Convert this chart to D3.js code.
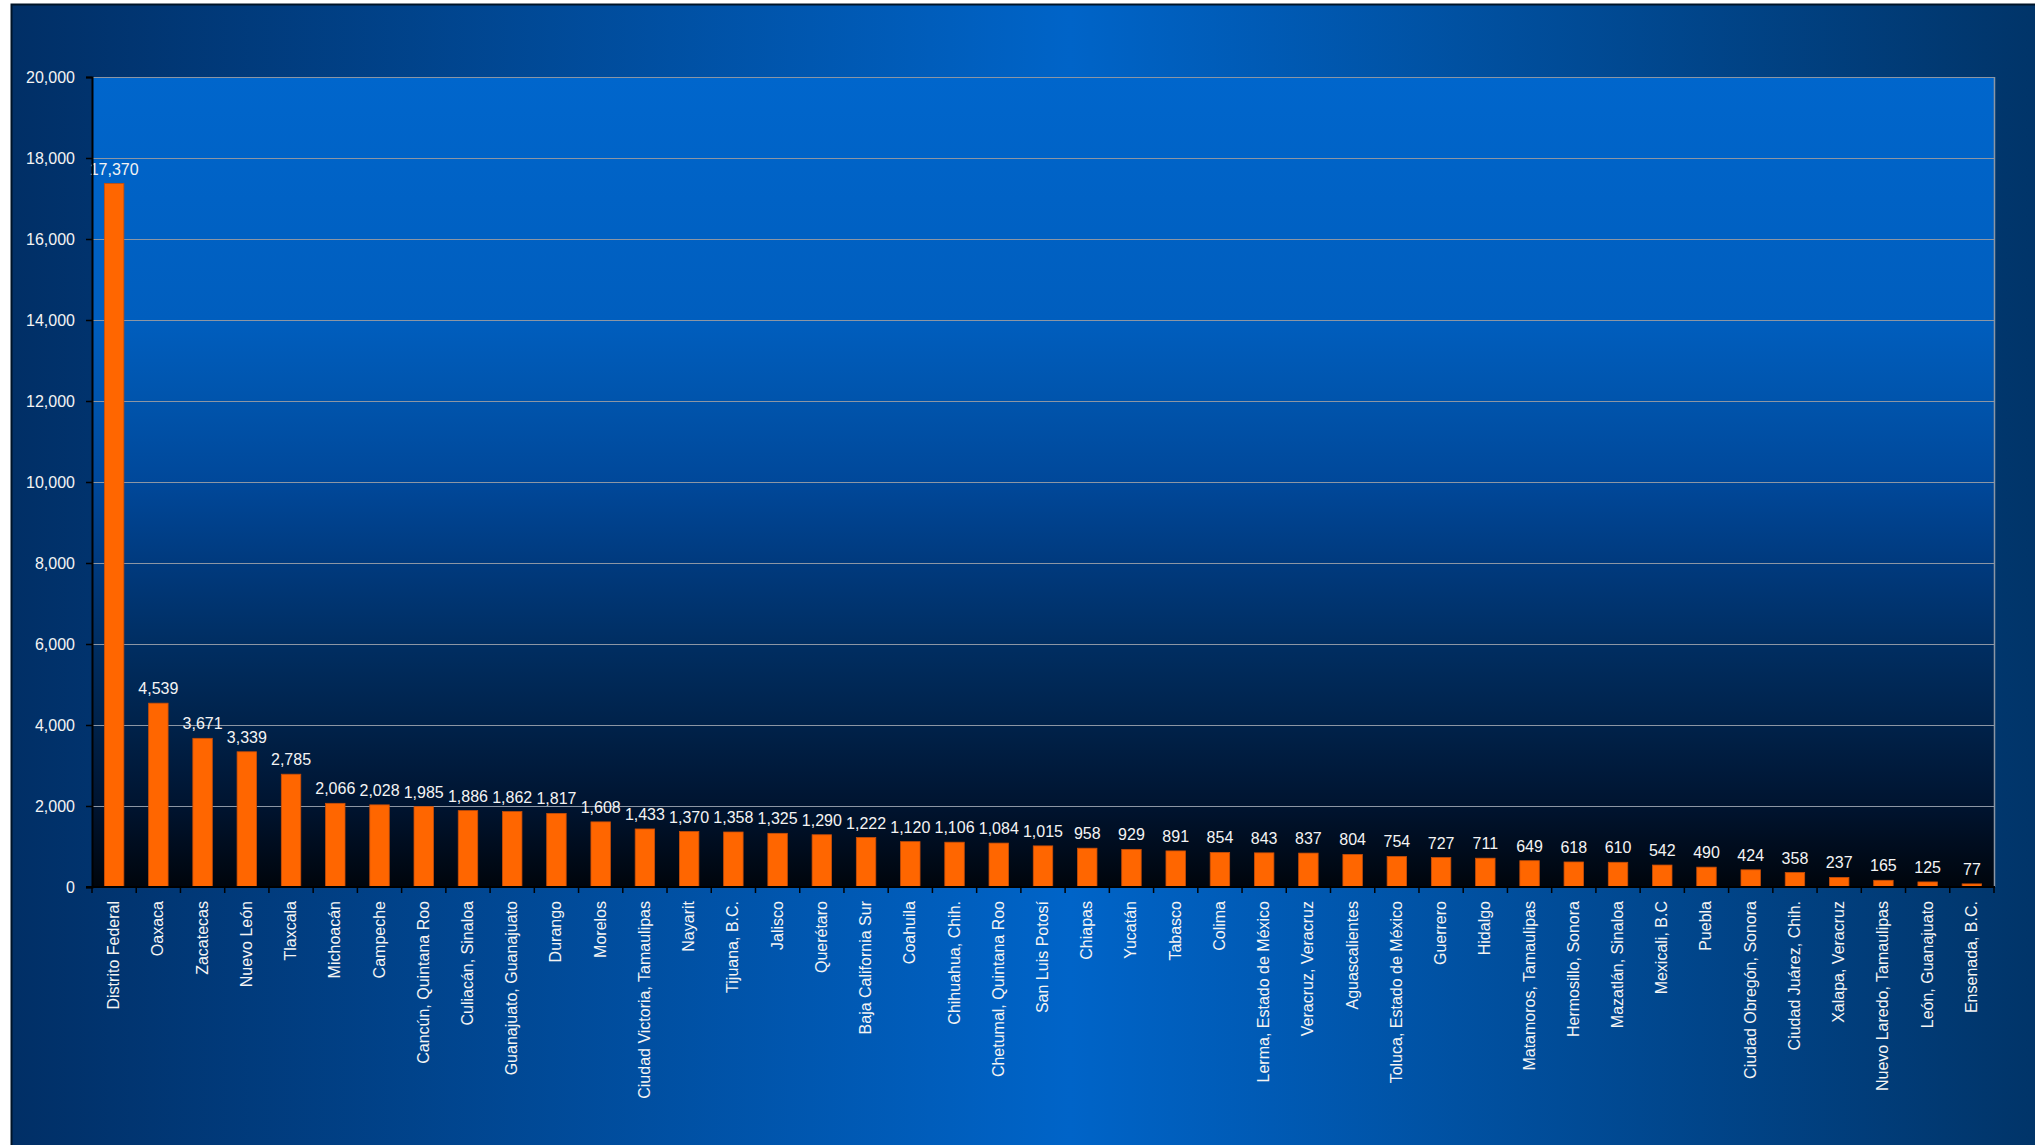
<!DOCTYPE html>
<html>
<head>
<meta charset="utf-8">
<script src="https://cdn.jsdelivr.net/npm/d3@7"></script>
<style>
  html, body { margin: 0; padding: 0; background: #ffffff; }
  svg { display: block; }
  text { font-family: "Liberation Sans", Arial, sans-serif; }
</style>
</head>
<body>
<svg id="chart" width="2035" height="1145"></svg>
<script>
// Locations and their counts, sorted from largest to smallest
const categories = [
  "Distrito Federal", "Oaxaca", "Zacatecas", "Nuevo León", "Tlaxcala", "Michoacán",
  "Campeche", "Cancún, Quintana Roo", "Culiacán, Sinaloa", "Guanajuato, Guanajuato",
  "Durango", "Morelos", "Ciudad Victoria, Tamaulipas", "Nayarit", "Tijuana, B.C.",
  "Jalisco", "Querétaro", "Baja California Sur", "Coahuila", "Chihuahua, Chih.",
  "Chetumal, Quintana Roo", "San Luis Potosí", "Chiapas", "Yucatán", "Tabasco",
  "Colima", "Lerma, Estado de México", "Veracruz, Veracruz", "Aguascalientes",
  "Toluca, Estado de México", "Guerrero", "Hidalgo", "Matamoros, Tamaulipas",
  "Hermosillo, Sonora", "Mazatlán, Sinaloa", "Mexicali, B.C", "Puebla",
  "Ciudad Obregón, Sonora", "Ciudad Juárez, Chih.", "Xalapa, Veracruz",
  "Nuevo Laredo, Tamaulipas", "León, Guanajuato", "Ensenada, B.C."
];
const values = [
  17370, 4539, 3671, 3339, 2785, 2066,
  2028, 1985, 1886, 1862,
  1817, 1608, 1433, 1370, 1358,
  1325, 1290, 1222, 1120, 1106,
  1084, 1015, 958, 929, 891,
  854, 843, 837, 804,
  754, 727, 711, 649,
  618, 610, 542, 490,
  424, 358, 237,
  165, 125, 77
];
const yTicks = [0, 2000, 4000, 6000, 8000, 10000, 12000, 14000, 16000, 18000, 20000];

const data = categories.map((c, i) => ({ name: c, value: values[i] }));

const svg = d3.select("#chart");
const defs = svg.append("defs");

// Outer panel: horizontal dark-bright-dark blue
const bgGrad = defs.append("linearGradient").attr("id", "bgGrad")
  .attr("x1", "0%").attr("y1", "0%").attr("x2", "100%").attr("y2", "0%");
[["0%", "#012f66"], ["52%", "#0064c8"], ["100%", "#013468"]].forEach(([o, c]) =>
  bgGrad.append("stop").attr("offset", o).attr("stop-color", c));

// Plot area: bright blue at top fading to near-black at the base
const plotGrad = defs.append("linearGradient").attr("id", "plotGrad")
  .attr("x1", "0%").attr("y1", "0%").attr("x2", "0%").attr("y2", "100%");
[["0%", "#0066cc"], ["30%", "#005ebe"], ["40%", "#0054ac"], ["50%", "#00489a"],
 ["60%", "#003a7e"], ["70%", "#002e62"], ["80%", "#00224a"], ["90%", "#001430"],
 ["100%", "#00050c"]].forEach(([o, c]) =>
  plotGrad.append("stop").attr("offset", o).attr("stop-color", c));

// Frame
svg.append("rect")
  .attr("x", 11.5).attr("y", 4.5).attr("width", 2035).attr("height", 1145)
  .attr("fill", "url(#bgGrad)")
  .attr("stroke", "#001428").attr("stroke-width", 2);

const plot = { left: 92, top: 77, right: 1994, bottom: 887 };

const x = d3.scaleBand()
  .domain(categories)
  .range([plot.left, plot.right])
  .paddingInner(0.56)
  .paddingOuter(0.28);

const y = d3.scaleLinear()
  .domain([0, 20000])
  .range([plot.bottom, plot.top]);

// Plot background
svg.append("rect")
  .attr("x", plot.left).attr("y", plot.top)
  .attr("width", plot.right - plot.left).attr("height", plot.bottom - plot.top)
  .attr("fill", "url(#plotGrad)");

// Horizontal gridlines
svg.append("g").selectAll("line")
  .data(yTicks.filter(t => t > 0))
  .join("line")
  .attr("x1", plot.left).attr("x2", plot.right)
  .attr("y1", d => Math.round(y(d)) + 0.5).attr("y2", d => Math.round(y(d)) + 0.5)
  .attr("stroke", "#8c96a4").attr("stroke-width", 1.2);

// Right border of plot
svg.append("line")
  .attr("x1", plot.right + 0.5).attr("x2", plot.right + 0.5)
  .attr("y1", plot.top).attr("y2", plot.bottom)
  .attr("stroke", "#8c96a4").attr("stroke-width", 1.5);

// Bars
svg.append("g").selectAll("rect")
  .data(data)
  .join("rect")
  .attr("x", d => x(d.name))
  .attr("y", d => y(d.value))
  .attr("width", x.bandwidth())
  .attr("height", d => y(0) - y(d.value))
  .attr("fill", "#ff6600")
  .attr("stroke", "#c84e08").attr("stroke-width", 0.8);

// Value labels
svg.append("g").selectAll("text")
  .data(data)
  .join("text")
  .attr("x", d => x(d.name) + x.bandwidth() / 2)
  .attr("y", d => y(d.value) - 9)
  .attr("text-anchor", "middle")
  .attr("fill", "#f4f4f4")
  .attr("font-size", "16px")
  .text(d => d3.format(",")(d.value));

// Y axis
const yAxis = svg.append("g")
  .attr("transform", `translate(${plot.left},0)`)
  .call(d3.axisLeft(y).tickValues(yTicks).tickFormat(d3.format(",")).tickSize(6).tickPadding(11));
yAxis.select(".domain").attr("stroke", "#000000").attr("stroke-width", 2);
yAxis.selectAll(".tick line").attr("stroke", "#000000").attr("stroke-width", 1.5);
yAxis.selectAll(".tick text")
  .attr("fill", "#f4f4f4")
  .attr("font-size", "16px")
  .attr("font-family", "'Liberation Sans', Arial, sans-serif");

// X axis: ticks sit on category boundaries
const xAxis = svg.append("g")
  .attr("transform", `translate(0,${plot.bottom})`);
xAxis.append("line")
  .attr("x1", plot.left - 6).attr("x2", plot.right + 1)
  .attr("y1", 0).attr("y2", 0)
  .attr("stroke", "#000000").attr("stroke-width", 2);
const boundaries = d3.range(categories.length + 1).map(i => plot.left + i * (plot.right - plot.left) / categories.length);
xAxis.selectAll(".bt")
  .data(boundaries)
  .join("line")
  .attr("class", "bt")
  .attr("x1", d => d).attr("x2", d => d)
  .attr("y1", 0).attr("y2", 6)
  .attr("stroke", "#000000").attr("stroke-width", 1.5);

// Category labels, rotated
xAxis.selectAll(".cl")
  .data(categories)
  .join("text")
  .attr("class", "cl")
  .attr("transform", d => `translate(${x(d) + x.bandwidth() / 2 + 5},${14}) rotate(-90)`)
  .attr("text-anchor", "end")
  .attr("fill", "#f4f4f4")
  .attr("font-size", "16px")
  .text(d => d);
</script>
</body>
</html>
